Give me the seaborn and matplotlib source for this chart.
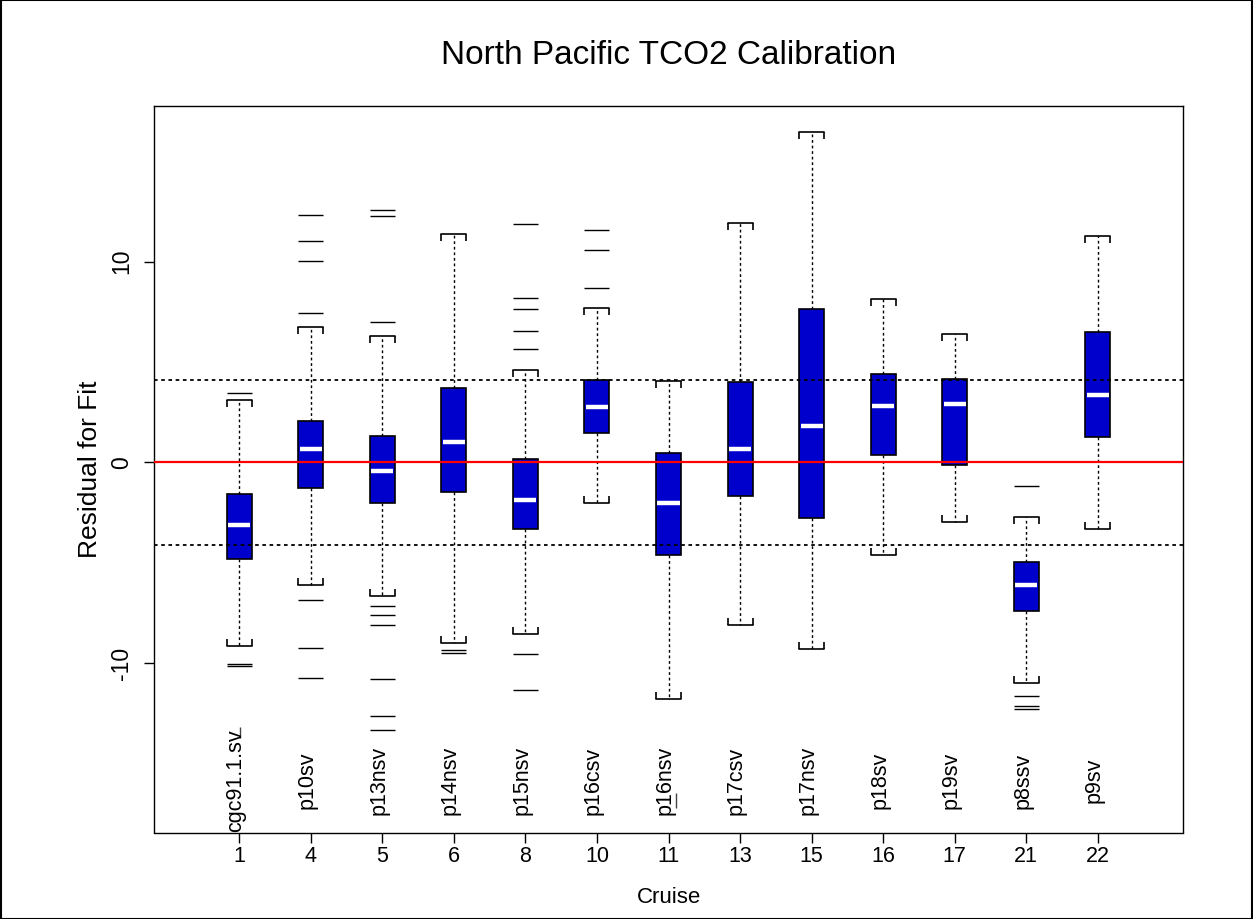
import numpy as np
import matplotlib
matplotlib.use("Agg")
import matplotlib.pyplot as plt
import seaborn as sns
from matplotlib.patches import Rectangle

# ---------------- data ----------------
cruise_ids = ["1", "4", "5", "6", "8", "10", "11", "13", "15", "16", "17", "21", "22"]
cruise_names = ["cgc91.1.sv", "p10sv", "p13nsv", "p14nsv", "p15nsv", "p16csv", "p16nsv",
                "p17csv", "p17nsv", "p18sv", "p19sv", "p8ssv", "p9sv"]
whisker_low = [-9.16, -6.13, -6.67, -9.00, -8.53, -2.01, -11.79, -8.10, -9.29, -4.59, -2.96, -10.99, -3.31]
q1 = [-4.79, -1.26, -2.03, -1.46, -3.34, 1.46, -4.60, -1.65, -2.78, 0.38, -0.13, -7.38, 1.26]
median = [-3.11, 0.65, -0.45, 1.03, -1.86, 2.74, -2.01, 0.68, 1.80, 2.83, 2.89, -6.13, 3.34]
q3 = [-1.55, 2.06, 1.30, 3.71, 0.15, 4.09, 0.48, 3.99, 7.66, 4.42, 4.14, -4.94, 6.50]
whisker_high = [3.13, 6.75, 6.30, 11.39, 4.62, 7.70, 4.06, 11.94, 16.46, 8.15, 6.42, -2.71, 11.26]
outliers = [
    [3.44, -10.02, -10.16],
    [12.35, 11.01, 10.04, 7.47, -6.85, -9.26, -10.72],
    [12.57, 12.27, 7.00, -7.17, -7.58, -8.11, -10.79, -12.62, -13.32],
    [-9.33, -9.49],
    [11.87, 8.21, 7.66, 6.57, 5.65, -9.56, -11.32],
    [11.60, 10.56, 8.68],
    [],
    [],
    [],
    [],
    [],
    [-1.15, -11.62, -12.15, -12.27],
    [],
]
ref_band = 4.11          # dotted reference lines at +/- this value
zero_line = 0.0
# small vertical stray marks seen in the original (index, x offset, y0, y1)
stray_idx = [0, 6]
stray_dx = [0.01, 0.11]
stray_y0 = [-13.18, -16.48]
stray_y1 = [-13.73, -17.23]

# ---------------- style ----------------
sns.set_style("white")
plt.rcParams["font.family"] = ["Liberation Sans", "DejaVu Sans"]
plt.rcParams.update({"text.color": "black", "axes.labelcolor": "black",
                     "xtick.color": "black", "ytick.color": "black",
                     "axes.edgecolor": "black"})

fig = plt.figure(figsize=(12.53, 9.19), dpi=100)
ax = fig.add_axes([154 / 1253, 1 - 832.5 / 919, (1183 - 154) / 1253, (832.5 - 106) / 919])

box_color = "#0000CD"
bw = 0.35
pos = np.arange(len(cruise_names))

stats = []
for i in range(len(cruise_names)):
    stats.append(dict(med=median[i], q1=q1[i], q3=q3[i], whislo=whisker_low[i],
                      whishi=whisker_high[i], fliers=[], label=cruise_ids[i]))

ax.bxp(stats, positions=pos, widths=bw, capwidths=bw, patch_artist=True, showfliers=False,
       boxprops=dict(facecolor=box_color, edgecolor="black", linewidth=1.2),
       medianprops=dict(linewidth=0),
       whiskerprops=dict(color="black", linewidth=1.0, linestyle=(0, (2, 2))),
       capprops=dict(color="black", linewidth=1.2))

# medians (white, inside the box)
ax.hlines(median, pos - bw / 2 + 0.02, pos + bw / 2 - 0.02, color="white", linewidth=3.2, zorder=4)

# bracket legs on whisker caps (pointing toward the box)
leg = 0.35
for i in pos:
    for cx in (i - bw / 2, i + bw / 2):
        ax.vlines(cx, whisker_high[i] - leg, whisker_high[i], color="black", linewidth=1.2, zorder=3)
        ax.vlines(cx, whisker_low[i], whisker_low[i] + leg, color="black", linewidth=1.2, zorder=3)

# outliers drawn as horizontal dashes
for i in pos:
    if outliers[i]:
        ax.hlines(outliers[i], i - bw / 2, i + bw / 2, color="black", linewidth=1.0, zorder=3)

for k, i in enumerate(stray_idx):
    ax.vlines(i + stray_dx[k], stray_y1[k], stray_y0[k], color="#444444", linewidth=1.0, zorder=3)

# reference lines
ax.axhline(zero_line, color="red", linewidth=1.6, zorder=5)
for v in (ref_band, -ref_band):
    ax.axhline(v, color="black", linewidth=1.3, linestyle=(0, (2, 2)), zorder=5)

# cruise names inside plot
for i, name in zip(pos, cruise_names):
    ax.text(i - 0.05, -15.86, name, rotation=90, ha="center", va="center", fontsize=15.5,
            color="black", zorder=6)

ax.set_xlim(-1.19, len(cruise_names) - 1 + 1.19)
ax.set_ylim(-18.44, 17.76)
ax.set_xticks(pos)
ax.set_xticklabels(cruise_ids)
ax.set_yticks([-10, 0, 10])
ax.set_yticklabels(["-10", "0", "10"], rotation=90, va="center")
ax.tick_params(axis="both", direction="out", length=7, width=1, color="black",
               labelcolor="black", left=True, bottom=True)
ax.tick_params(axis="x", pad=3, labelsize=15.5)
ax.tick_params(axis="y", pad=8, labelsize=16.5)
for s in ax.spines.values():
    s.set_visible(True)
    s.set_color("black")
    s.set_linewidth(1.0)
ax.grid(False)

ax.set_xlabel("Cruise", fontsize=16, labelpad=14, color="black")
ax.set_ylabel("Residual for Fit", fontsize=19, labelpad=6, color="black")
fig.text((154 + 1183) / 2 / 1253, 1 - 55 / 919, "North Pacific TCO2 Calibration",
         ha="center", va="center", fontsize=24, color="black")

fig.add_artist(Rectangle((0.0005, 0.0005), 0.999, 0.999, transform=fig.transFigure,
                         fill=False, edgecolor="black", linewidth=1.5))

fig.savefig("out.png", dpi=100, facecolor="white")
